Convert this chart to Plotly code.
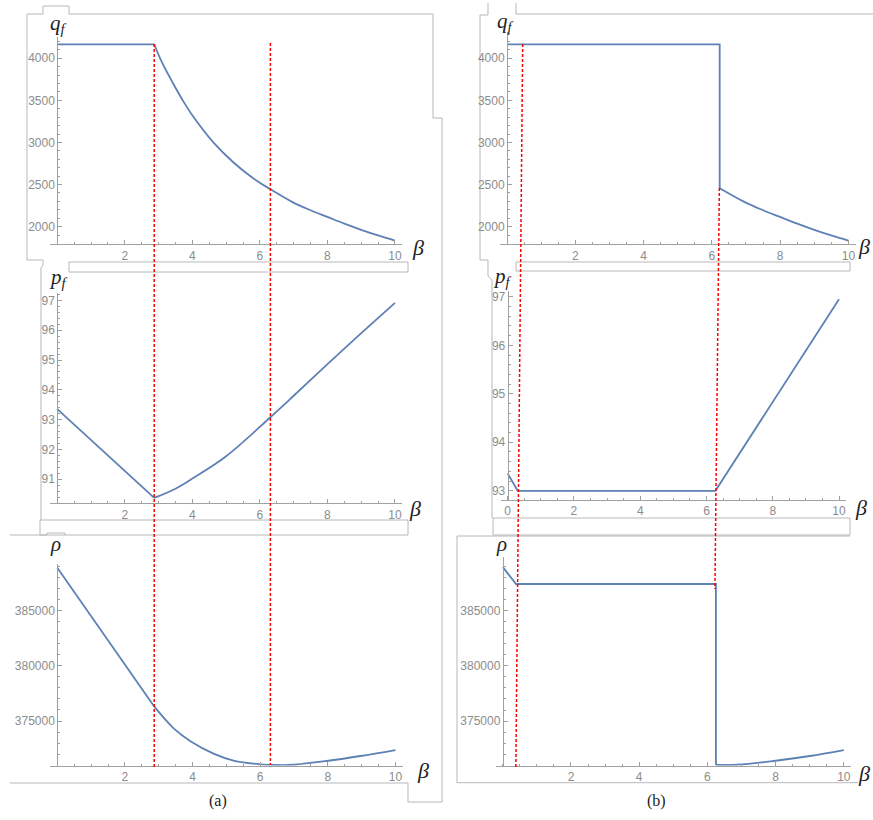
import plotly.graph_objects as go

# ---------------- data ----------------
# (a) q_f
beta_a_q_flat = [0.0, 2.87]
q_a_flat = [4166, 4166]
beta_a_q_curve = [2.87, 3.1, 3.43, 3.7, 4.02, 4.62, 5.21, 5.8, 6.31, 6.98, 7.5, 8.0, 8.5, 9.0, 9.5, 10.0]
q_a_curve = [4166, 3950, 3700, 3510, 3310, 3000, 2765, 2575, 2444, 2288, 2195, 2115, 2035, 1962, 1895, 1834]
# (a) p_f
beta_a_p_line = [0.0, 2.87]
p_a_line = [93.35, 90.37]
beta_a_p_curve = [2.87, 3.5, 4.0, 5.0, 6.31, 7.0, 8.0, 9.0, 10.0]
p_a_curve = [90.37, 90.68, 91.02, 91.77, 93.08, 93.8, 94.86, 95.9, 96.92]
# (a) rho
beta_a_r_line = [0.0, 2.87]
r_a_line = [388895, 376300]
beta_a_r_curve = [2.87, 3.44, 3.95, 4.62, 5.21, 6.0, 6.5, 6.99, 7.96, 8.96, 10.0]
r_a_curve = [376300, 374340, 373150, 372050, 371420, 371080, 371015, 371040, 371377, 371830, 372373]

# (b) q_f
beta_b_q_flat = [0.0, 6.23, 6.23]
q_b_flat = [4166, 4166, 2456]
beta_b_q_curve = [6.23, 6.98, 7.5, 8.0, 8.5, 9.0, 9.5, 10.0]
q_b_curve = [2456, 2288, 2195, 2115, 2035, 1962, 1895, 1834]
# (b) p_f
beta_b_p = [0.0, 0.3, 6.27, 8.0, 10.0]
p_b = [93.36, 93.0, 93.0, 94.83, 96.95]
# (b) rho
beta_b_r_flat = [0.0, 0.39, 6.25, 6.25]
r_b_flat = [388950, 387418, 387418, 371015]
beta_b_r_curve = [6.25, 7.0, 8.0, 9.0, 10.0]
r_b_curve = [371015, 371060, 371400, 371830, 372370]

# thresholds marked by red dashed lines
thr_a = [2.87, 6.31]

x_ticks = [2, 4, 6, 8, 10]
x_ticks_with0 = [0, 2, 4, 6, 8, 10]
q_ticks = [2000, 2500, 3000, 3500, 4000]
p_ticks_a = [91, 92, 93, 94, 95, 96, 97]
p_ticks_b = [93, 94, 95, 96, 97]
r_ticks = [375000, 380000, 385000]

# ---------------- styling / layout ----------------
W, H = 873, 820
BLUE = "#5E81B5"
AX = "#a0a0a0"
TXT = "#8c8c8c"
FRAME = "#b8b8b8"
RED = "#ff0000"


def fx(p):
    return p / W


def fy(p):
    return 1 - p / H


EXT = 0.21
panels = [
    dict(x0=57.3, x10=395.0, yb=244.3, yt=36.7, yr=[1790, 4256], yt_v=q_ticks, ym=100, xt=x_ticks),
    dict(x0=57.3, x10=395.0, yb=503.3, yt=293.3, yr=[90.19, 97.24], yt_v=p_ticks_a, ym=0.2, xt=x_ticks),
    dict(x0=57.3, x10=395.5, yb=765.5, yt=564.3, yr=[370970, 389200], yt_v=r_ticks, ym=1000, xt=x_ticks),
    dict(x0=507.0, x10=848.4, yb=244.3, yt=32.0, yr=[1790, 4312], yt_v=q_ticks, ym=100, xt=x_ticks),
    dict(x0=507.7, x10=839.0, yb=500.0, yt=291.0, yr=[92.81, 97.12], yt_v=p_ticks_b, ym=0.2, xt=x_ticks_with0),
    dict(x0=502.8, x10=843.8, yb=765.5, yt=557.3, yr=[370970, 389840], yt_v=r_ticks, ym=1000, xt=x_ticks),
]

fig = go.Figure()

series = [
    (beta_a_q_flat, q_a_flat, 1, "linear"),
    (beta_a_q_curve, q_a_curve, 1, "spline"),
    (beta_a_p_line, p_a_line, 2, "linear"),
    (beta_a_p_curve, p_a_curve, 2, "spline"),
    (beta_a_r_line, r_a_line, 3, "linear"),
    (beta_a_r_curve, r_a_curve, 3, "spline"),
    (beta_b_q_flat, q_b_flat, 4, "linear"),
    (beta_b_q_curve, q_b_curve, 4, "spline"),
    (beta_b_p, p_b, 5, "linear"),
    (beta_b_r_flat, r_b_flat, 6, "linear"),
    (beta_b_r_curve, r_b_curve, 6, "spline"),
]
for xs, ys, k, shape in series:
    sfx = "" if k == 1 else str(k)
    line = dict(color=BLUE, width=1.8, shape=shape)
    if shape == "spline":
        line["smoothing"] = 1.0
    fig.add_trace(go.Scatter(
        x=xs, y=ys, mode="lines", line=line,
        xaxis="x" + sfx, yaxis="y" + sfx, showlegend=False, hoverinfo="skip"))

layout = {}
tickfont = dict(family="Liberation Sans, Arial, sans-serif", size=12, color=TXT)
for i, p in enumerate(panels, start=1):
    sfx = "" if i == 1 else str(i)
    ppu = (p["x10"] - p["x0"]) / 10.0
    xl = p["x0"] - EXT * ppu
    xr = p["x10"] + EXT * ppu
    layout["xaxis" + sfx] = dict(
        domain=[fx(xl), fx(xr)], range=[-EXT, 10 + EXT], anchor="y" + sfx,
        showline=True, linecolor=AX, linewidth=1, showgrid=False, zeroline=False,
        tickvals=p["xt"], ticktext=[str(v) for v in p["xt"]],
        ticks="inside", ticklen=4, tickcolor=AX, tickwidth=1, tickfont=tickfont,
        minor=dict(dtick=0.5, tick0=0, ticks="inside", ticklen=2, tickcolor=AX, showgrid=False),
        fixedrange=True)
    layout["yaxis" + sfx] = dict(
        domain=[fy(p["yb"]), fy(p["yt"])], range=p["yr"], anchor="free", position=fx(p["x0"]),
        showline=True, linecolor=AX, linewidth=1, showgrid=False, zeroline=False,
        tickvals=p["yt_v"], ticktext=[str(v) for v in p["yt_v"]],
        ticks="inside", ticklen=4, tickcolor=AX, tickwidth=1, tickfont=tickfont,
        minor=dict(dtick=p["ym"], tick0=0, ticks="inside", ticklen=2, tickcolor=AX, showgrid=False),
        fixedrange=True)

shapes = []


def frame_path(pts, color=FRAME):
    d = "M " + " L ".join(f"{fx(a):.5f},{fy(b):.5f}" for a, b in pts)
    shapes.append(dict(type="path", path=d, xref="paper", yref="paper",
                       line=dict(color=color, width=1), layer="below"))


def frame_rect(x0, y0, x1, y1):
    shapes.append(dict(type="rect", xref="paper", yref="paper", x0=fx(x0), x1=fx(x1),
                       y0=fy(y1), y1=fy(y0), line=dict(color=FRAME, width=1), layer="below"))


# column (a) cell brackets
frame_path([(27, 260), (27, 14), (43, 14), (43, 6), (69, 6), (69, 14), (433, 14), (433, 118),
            (442, 118), (442, 802), (408, 802), (408, 783), (10, 783)])
frame_path([(27, 260), (43, 260), (43, 265), (41, 268), (41, 520)])
frame_rect(69, 262, 408, 272)
frame_rect(40, 520, 408, 535)
frame_path([(10, 535), (47, 535), (47, 533), (65, 533), (65, 535)])
# column (b) cell brackets
frame_path([(516, 3), (516, 14), (873, 14)])
frame_path([(488, 3), (488, 15), (480, 15), (480, 260), (488, 260), (488, 276), (492, 280), (492, 518)])
frame_rect(516, 262, 850, 271)
frame_rect(493, 518, 850, 535)
frame_path([(858, 782.7), (457, 782.7), (457, 536), (850, 536)])

# red dashed threshold lines
dash = "3px,2px"
shapes.append(dict(type="line", xref="x", yref="paper", x0=thr_a[0], x1=thr_a[0],
                   y0=fy(44), y1=fy(767), line=dict(color=RED, width=1.5, dash=dash)))
shapes.append(dict(type="line", xref="x", yref="paper", x0=thr_a[1], x1=thr_a[1],
                   y0=fy(43), y1=fy(765), line=dict(color=RED, width=1.5, dash=dash)))
shapes.append(dict(type="line", xref="x4", yref="paper", x0=0.46, x1=0.26,
                   y0=fy(44), y1=fy(767), line=dict(color=RED, width=1.5, dash=dash)))
shapes.append(dict(type="line", xref="x4", yref="paper", x0=6.22, x1=6.09,
                   y0=fy(188), y1=fy(589), line=dict(color=RED, width=1.5, dash=dash)))

annotations = []
SERIF = "Liberation Serif, DejaVu Serif, serif"


def label(text, x, y, size=20, color="#222"):
    annotations.append(dict(text=text, x=fx(x), y=fy(y), xref="paper", yref="paper",
                            showarrow=False, xanchor="center", yanchor="middle",
                            font=dict(family=SERIF, size=size, color=color)))


qf = "<i>q</i><sub><i>f</i></sub>"
pf = "<i>p</i><sub><i>f</i></sub>"
rho = "<i>ρ</i>"
beta = "<i>β</i>"
label(qf, 58, 24, 21)
label(pf, 58, 278, 21)
label(rho, 55, 544, 21)
label(qf, 505, 22, 21)
label(pf, 503, 277, 21)
label(rho, 502, 544, 21)
label(beta, 418, 247, 22)
label(beta, 415, 508, 22)
label(beta, 423, 770, 22)
label(beta, 864, 246, 22)
label(beta, 861, 507, 22)
label(beta, 864, 773, 22)
label("(a)", 218, 801, 16)
label("(b)", 656, 801, 16)

fig.update_layout(
    width=W, height=H, margin=dict(l=0, r=0, t=0, b=0),
    paper_bgcolor="white", plot_bgcolor="rgba(0,0,0,0)",
    showlegend=False, shapes=shapes, annotations=annotations, **layout)

fig.write_html("out.html", config={"displayModeBar": False},
               post_script="document.body.style.margin='0px';document.body.style.overflow='hidden';")
